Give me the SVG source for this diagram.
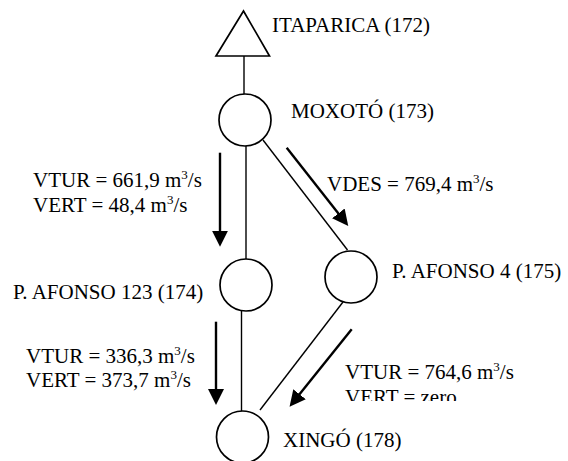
<svg xmlns="http://www.w3.org/2000/svg" width="568" height="461" viewBox="0 0 568 461">
<style>
.n{fill:none;stroke:#000;stroke-width:1.7}
.c{fill:none;stroke:#000;stroke-width:1.4}
.a{fill:none;stroke:#000;stroke-width:2.4}
text{font-family:"Liberation Serif","Times New Roman",serif;font-size:21px;fill:#000}
.s{font-size:13px}
</style>
<defs>
<marker id="ah" markerUnits="userSpaceOnUse" markerWidth="16" markerHeight="16" refX="2" refY="8" orient="auto" viewBox="0 0 16 16">
<path d="M0,0 L16,8 L0,16 z" fill="#000"/>
</marker>
<clipPath id="clipz"><rect x="0" y="0" width="568" height="401"/></clipPath>
</defs>
<rect width="568" height="461" fill="#fff"/>
<g id="connectors">
<line class="c" x1="244" y1="56" x2="244" y2="94"/>
<line class="c" x1="246" y1="146" x2="246" y2="259"/>
<line class="c" x1="263" y1="140" x2="347.5" y2="250"/>
<line class="c" x1="241.5" y1="311" x2="241.5" y2="411"/>
<line class="c" x1="343" y1="302" x2="260" y2="410"/>
<line class="a" x1="220" y1="152.7" x2="220" y2="232.7" marker-end="url(#ah)"/>
<line class="a" x1="216" y1="321.7" x2="216" y2="391" marker-end="url(#ah)"/>
<line class="a" x1="286.7" y1="147.7" x2="339.6" y2="215" marker-end="url(#ah)"/>
<line class="a" x1="351.7" y1="329.3" x2="298.3" y2="395.8" marker-end="url(#ah)"/>
</g>
<g id="itaparica">
<polygon class="n" points="243.5,11 216,56 269.5,56"/>
<text x="272" y="32">ITAPARICA (172)</text>
</g>
<g id="moxoto">
<circle class="n" cx="245" cy="120" r="26"/>
<text x="291" y="118">MOXOTÓ (173)</text>
</g>
<g id="pafonso123">
<circle class="n" cx="246" cy="285" r="26"/>
<text x="13" y="299">P. AFONSO 123 (174)</text>
</g>
<g id="pafonso4">
<circle class="n" cx="351" cy="277" r="26"/>
<text x="392" y="278">P. AFONSO 4 (175)</text>
</g>
<g id="xingo">
<circle class="n" cx="242.5" cy="437" r="26"/>
<text x="283" y="447">XINGÓ (178)</text>
</g>
<g id="labels">
<text x="33" y="187">VTUR = 661,9 m<tspan class="s" dy="-8">3</tspan><tspan dy="8">/s</tspan></text>
<text x="33" y="211.5">VERT = 48,4 m<tspan class="s" dy="-8">3</tspan><tspan dy="8">/s</tspan></text>
<text x="327" y="190.5">VDES = 769,4 m<tspan class="s" dy="-8">3</tspan><tspan dy="8">/s</tspan></text>
<text x="26" y="362.5">VTUR = 336,3 m<tspan class="s" dy="-8">3</tspan><tspan dy="8">/s</tspan></text>
<text x="26" y="386.5">VERT = 373,7 m<tspan class="s" dy="-8">3</tspan><tspan dy="8">/s</tspan></text>
<text x="345" y="379">VTUR = 764,6 m<tspan class="s" dy="-8">3</tspan><tspan dy="8">/s</tspan></text>
<text x="345" y="403.5" clip-path="url(#clipz)">VERT = zero</text>
</g>
</svg>
